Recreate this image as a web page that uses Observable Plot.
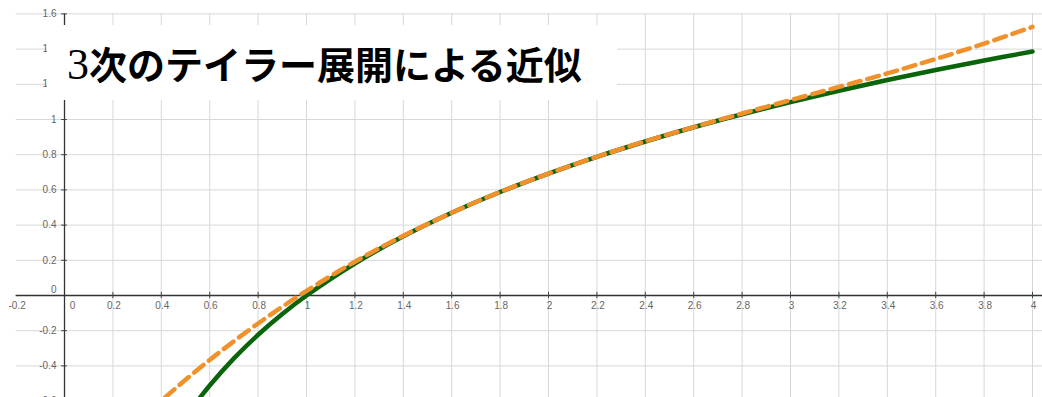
<!DOCTYPE html>
<html><head><meta charset="utf-8">
<script src="https://cdn.jsdelivr.net/npm/d3@7"></script>
<script src="https://cdn.jsdelivr.net/npm/@observablehq/plot@0.6"></script>
<style>
html,body{margin:0;padding:0;background:#fff;}
#wrap{position:relative;width:1042px;height:397px;overflow:hidden;}
#title{position:absolute;left:47px;top:25px;width:570px;height:75px;background:#fff;box-sizing:border-box;padding-left:20px;
  font-family:"Noto Sans CJK JP","Noto Sans",sans-serif;font-weight:bold;font-size:38px;line-height:75px;color:#000;white-space:nowrap;}
#title .num{font-family:"Liberation Serif","DejaVu Serif",serif;font-weight:normal;font-size:44px;}
</style></head><body>
<div id="wrap"><div id="chart"></div><div id="title"><span class="num">3</span>次のテイラー展開による近似</div></div>
<script>
// ln(x) curve (green, solid)
const lnX = [0.5, 0.55, 0.6, 0.7, 0.8, 0.9, 1.0, 1.2, 1.4, 1.6, 1.8, 2.0, 2.2, 2.4, 2.6, 2.8, 3.0, 3.2, 3.4, 3.6, 3.8, 4.0];
const lnY = [-0.693, -0.598, -0.511, -0.357, -0.223, -0.105, 0.0, 0.182, 0.336, 0.470, 0.588, 0.693, 0.788, 0.875, 0.956, 1.030, 1.099, 1.163, 1.224, 1.281, 1.335, 1.386];
// 3rd-order Taylor approximation (orange, dashed)
const taylorX = [0.3, 0.4, 0.5, 0.6, 0.7, 0.8, 0.9, 1.0, 1.2, 1.4, 1.6, 1.8, 2.0, 2.2, 2.4, 2.6, 2.8, 3.0, 3.2, 3.4, 3.6, 3.8, 4.0];
const taylorY = [-0.723, -0.598, -0.479, -0.366, -0.260, -0.159, -0.064, 0.026, 0.192, 0.339, 0.470, 0.588, 0.693, 0.788, 0.876, 0.957, 1.034, 1.110, 1.185, 1.262, 1.344, 1.431, 1.526];
// axis ticks
const xTicks = [-0.2, 0, 0.2, 0.4, 0.6, 0.8, 1, 1.2, 1.4, 1.6, 1.8, 2, 2.2, 2.4, 2.6, 2.8, 3, 3.2, 3.4, 3.6, 3.8, 4];
const xTickLabels = ["-0.2", "0", "0.2", "0.4", "0.6", "0.8", "1", "1.2", "1.4", "1.6", "1.8", "2", "2.2", "2.4", "2.6", "2.8", "3", "3.2", "3.4", "3.6", "3.8", "4"];
const yTicks = [-0.6, -0.4, -0.2, 0, 0.2, 0.4, 0.6, 0.8, 1, 1.2, 1.4, 1.6];
const yTickLabels = ["-0.6", "-0.4", "-0.2", "0", "0.2", "0.4", "0.6", "0.8", "1", "1.2", "1.4", "1.6"];

const X0 = -0.2645, X1 = 4.0413, Y0 = -0.5795, Y1 = 1.676;
const gridTop = 1.6, gridLeft = -0.2;

const lnData = lnX.map((x, i) => ({x, y: lnY[i]}));
const taylorData = taylorX.map((x, i) => ({x, y: taylorY[i]}));
const xT = xTicks.map((v, i) => ({v, label: xTickLabels[i]}));
const yT = yTicks.map((v, i) => ({v, label: yTickLabels[i]}));

const chart = Plot.plot({
  width: 1042, height: 397, margin: 0,
  x: {domain: [X0, X1], axis: null},
  y: {domain: [Y0, Y1], axis: null},
  style: {background: "#fff", fontFamily: "Liberation Sans, Arial, sans-serif"},
  marks: [
    Plot.ruleX(xT.filter(d => d.v > -0.1 && d.v !== 0), {x: "v", y1: Y0, y2: gridTop, stroke: "#d8d8d8", strokeWidth: 1}),
    Plot.ruleY(yT.filter(d => d.v !== 0), {y: "v", x1: gridLeft, x2: X1, stroke: "#d8d8d8", strokeWidth: 1}),
    Plot.ruleY([0], {x1: gridLeft, x2: X1, stroke: "#333", strokeWidth: 1.3}),
    Plot.ruleX([0], {y1: Y0, y2: gridTop, stroke: "#333", strokeWidth: 1.3}),
    Plot.ruleX(xT.filter(d => d.v > 0), {x: "v", y1: -0.018, y2: 0.018, stroke: "#444", strokeWidth: 1}),
    Plot.ruleY(yT.filter(d => d.v !== 0), {y: "v", x1: -0.012, x2: 0.012, stroke: "#444", strokeWidth: 1}),
    Plot.text(xT.filter(d => d.v !== 0), {x: "v", y: 0, text: "label", dy: 10, dx: 1, fontSize: 10, fill: "#666"}),
    Plot.text(xT.filter(d => d.v === 0), {x: "v", y: 0, text: "label", dy: 10, dx: 8, fontSize: 10, fill: "#666"}),
    Plot.text(yT.filter(d => d.v !== 0), {x: 0, y: "v", text: "label", textAnchor: "end", dx: -8, fontSize: 10, fill: "#666"}),
    Plot.text(yT.filter(d => d.v === 0), {x: 0, y: "v", text: "label", textAnchor: "end", dx: -8, dy: -6, fontSize: 10, fill: "#666"}),
    Plot.line(lnData, {x: "x", y: "y", stroke: "#0a640a", strokeWidth: 4.5, curve: "catmull-rom", clip: true}),
    Plot.line(taylorData, {x: "x", y: "y", stroke: "#f0912c", strokeWidth: 4.5, strokeDasharray: "12,7", curve: "catmull-rom", clip: true})
  ]
});
document.getElementById("chart").appendChild(chart);
</script>
</body></html>
